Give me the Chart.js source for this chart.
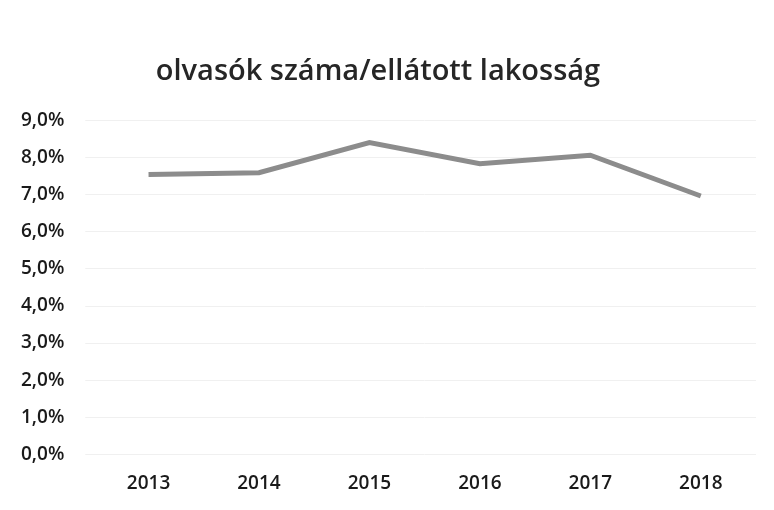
<!DOCTYPE html>
<html>
<head>
<meta charset="utf-8">
<script src="https://cdn.jsdelivr.net/npm/chart.js@4/dist/chart.umd.min.js"></script>
<style>
  html, body { margin: 0; padding: 0; background: #fff; }
  #wrap { width: 774px; height: 510px; }
</style>
</head>
<body>
<div id="wrap"><canvas id="readersChart" width="774" height="510"></canvas></div>
<script>
const years = ['2013', '2014', '2015', '2016', '2017', '2018'];
const readerShare = [7.55, 7.6, 8.41, 7.84, 8.07, 6.97];
const titleText = 'olvasók száma/ellátott lakosság';

const ctx = document.getElementById('readersChart');

new Chart(ctx, {
    type: 'line',
    data: {
        labels: years,
        datasets: [{
            data: readerShare,
            borderColor: '#8c8c8c',
            borderWidth: 5,
            pointRadius: 0,
            tension: 0,
            fill: false
        }]
    },
    options: {
        responsive: false,
        animation: false,
        layout: {
            padding: { left: 0, right: 18, top: 42, bottom: 5 }
        },
        plugins: {
            legend: { display: false },
            tooltip: { enabled: false },
            title: {
                display: true,
                text: titleText,
                color: '#262626',
                font: { family: 'Open Sans', size: 29, weight: '600' },
                padding: { top: 12, bottom: 32 }
            }
        },
        scales: {
            x: {
                offset: true,
                grid: { display: false },
                border: { display: false },
                ticks: {
                    color: '#1a1a1a',
                    font: { family: 'Open Sans', size: 19, weight: '600' },
                    padding: 10
                }
            },
            y: {
                min: 0,
                max: 9,
                grid: { color: '#f0f0f0', lineWidth: 1 },
                border: { display: false },
                ticks: {
                    stepSize: 1,
                    color: '#1a1a1a',
                    font: { family: 'Open Sans', size: 19, weight: '600' },
                    padding: 21,
                    callback: function (value) {
                        return value.toFixed(1).replace('.', ',') + '%';
                    }
                }
            }
        }
    }
});
</script>
</body>
</html>
